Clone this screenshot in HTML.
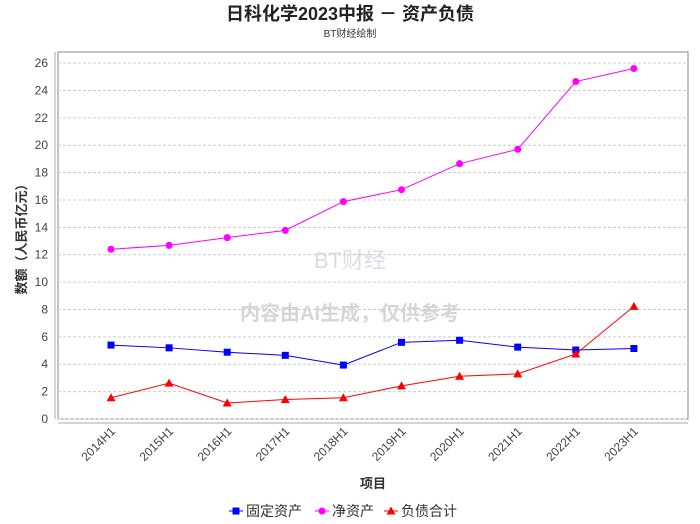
<!DOCTYPE html>
<html><head><meta charset="utf-8"><style>
body{margin:0;background:#fff;width:700px;height:524px;overflow:hidden}
svg{display:block;font-family:"Liberation Sans","Noto Sans CJK SC",sans-serif}
</style></head><body>
<svg id="chart" width="700" height="524">
<text x="350" y="20" text-anchor="middle" font-size="18" font-weight="bold" fill="#222">日科化学2023中报 － 资产负债</text>
<text x="350" y="37" text-anchor="middle" font-size="10" fill="#333">BT财经绘制</text>
<rect x="58" y="52" width="630" height="367" fill="#fff" stroke="#888"/>
<g id="grid"></g><g id="yticks"></g><g id="xticks"></g>
<line x1="55" y1="52" x2="55" y2="419" stroke="#aaa"/>
<line x1="58" y1="423" x2="688" y2="423" stroke="#aaa"/>
<text x="350" y="320" text-anchor="middle" font-size="20" font-weight="bold" fill="#ccc" opacity="0.8">内容由AI生成，仅供参考</text>
<text x="350" y="268" text-anchor="middle" font-size="22" fill="#ccd" opacity="0.7">BT财经</text>
<g id="series"></g>
<text x="373" y="488" text-anchor="middle" font-size="13" font-weight="bold" fill="#333">项目</text>
<text transform="translate(26,236) rotate(-90)" text-anchor="middle" font-size="13" font-weight="bold" fill="#333">数额（人民币亿元）</text>
<g id="legend"></g>
</svg>
<script>
const categories=["2014H1","2015H1","2016H1","2017H1","2018H1","2019H1","2020H1","2021H1","2022H1","2023H1"];
const fixedAssets=[5.4,5.2,4.88,4.65,3.94,5.6,5.75,5.25,5.04,5.15];
const netAssets=[12.4,12.68,13.25,13.78,15.88,16.75,18.65,19.7,24.65,25.6];
const liabilities=[1.55,2.62,1.17,1.42,1.55,2.42,3.12,3.3,4.75,8.23];
const yTicks=[0,2,4,6,8,10,12,14,16,18,20,22,24,26];
const seriesNames=["固定资产","净资产","负债合计"];
const NS="http://www.w3.org/2000/svg";
const y=v=>419-v*13.69;
const x=i=>111+i*58.1;
function mk(t,a,p){const e=document.createElementNS(NS,t);for(const k in a)e.setAttribute(k,a[k]);p.appendChild(e);return e;}
const grid=document.getElementById('grid'),yt=document.getElementById('yticks'),xt=document.getElementById('xticks');
yTicks.forEach(v=>{
 const l=mk('line',{x1:58,x2:688,y1:y(v),y2:y(v),stroke:'#ccc','stroke-dasharray':'3,2'},grid);
 
 
 const t=mk('text',{x:48,y:y(v)+4,'text-anchor':'end','font-size':12,fill:'#444'},yt);
 t.textContent=v;
 
 
});
categories.forEach((c,i)=>{
 const t=mk('text',{transform:`translate(${x(i)+5},${432}) rotate(-45)`,'text-anchor':'end','font-size':12,fill:'#444'},xt);
 t.textContent=c;
 
 
});
const sg=document.getElementById('series');
function marker(shape,cx,cy,col,g){
 let m;
 if(shape==='sq')m=mk('rect',{x:cx-3.5,y:cy-3.5,width:7,height:7,fill:col},g);
 else if(shape==='ci')m=mk('circle',{cx:cx,cy:cy,r:3.5,fill:col},g);
 else m=mk('polygon',{points:`${cx},${cy-4.5} ${cx+4.5},${cy+3.5} ${cx-4.5},${cy+3.5}`,fill:col},g);
 return m;
}
[[fixedAssets,'#0000ff','sq','fixed-assets'],[netAssets,'#ff00ff','ci','net-assets'],[liabilities,'#ff0000','tr','liabilities']].forEach(([d,col,sh,nm])=>{
 const g=mk('g',{},sg);
 
 
 const pl=mk('polyline',{points:d.map((v,i)=>x(i)+','+y(v)).join(' '),fill:'none',stroke:col,'stroke-width':1},g);
 
 
 d.forEach((v,i)=>{const m=marker(sh,x(i),y(v),col,g);
  
  });
});
const lg=document.getElementById('legend');
const lx=[229,315,384],cols=['#0000ff','#ff00ff','#ff0000'],shapes=['sq','ci','tr'];
seriesNames.forEach((n,i)=>{
 const g=mk('g',{},lg);
 
 
 mk('line',{x1:lx[i],x2:lx[i]+14,y1:511,y2:511,stroke:cols[i]},g);
 marker(shapes[i],lx[i]+7,511,cols[i],g);
 const t=mk('text',{x:lx[i]+17,y:516,'font-size':14,fill:'#333'},g);
 t.textContent=n;
});
</script>
</body></html>
